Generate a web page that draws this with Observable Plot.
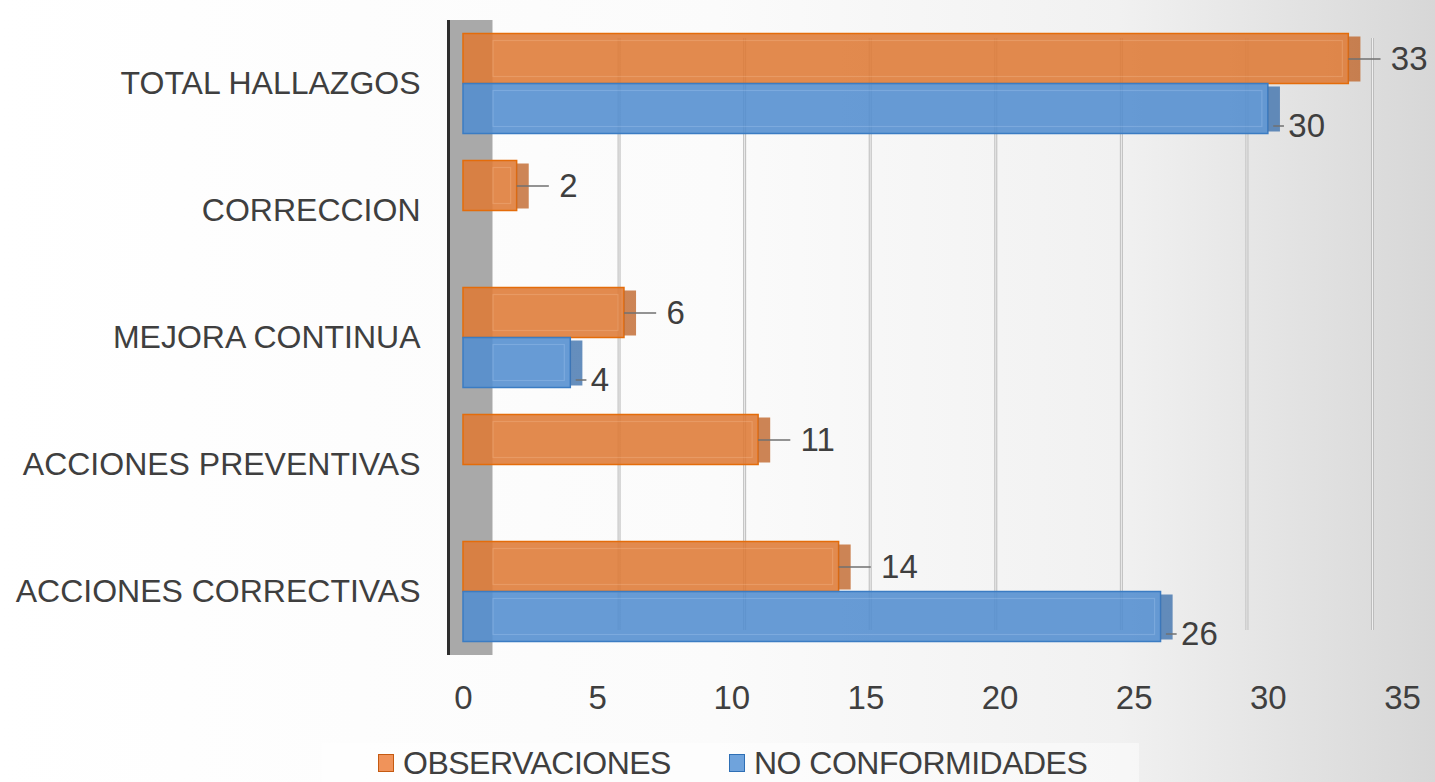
<!DOCTYPE html>
<html><head><meta charset="utf-8">
<script src="https://cdn.jsdelivr.net/npm/d3@7"></script>
<script src="https://cdn.jsdelivr.net/npm/@observablehq/plot@0.6"></script>
<style>
html,body{margin:0;padding:0;}
body{width:1435px;height:782px;overflow:hidden;background:linear-gradient(to right,#ffffff 0%,#fbfbfb 50%,#f1f1f1 78%,#d7d7d7 100%);font-family:"Liberation Sans",Arial,sans-serif;}
#wrap{position:relative;width:1435px;height:782px;}
#back,#front{position:absolute;left:0;top:0;}
#legend{position:absolute;left:322px;top:743px;width:817px;height:39px;background:rgba(255,255,255,0.45);display:flex;align-items:center;padding-left:56px;box-sizing:border-box;gap:58px;}
.item{display:flex;align-items:center;font-size:32px;line-height:34px;color:#3f3f3f;letter-spacing:-0.5px;}
.sw{width:14px;height:16px;margin-right:9px;border:1.5px solid;}
</style></head><body>
<div id="wrap"><div id="back"></div><div id="front"></div><div id="legend"></div></div>
<script>
const categories = ["TOTAL HALLAZGOS", "CORRECCION", "MEJORA CONTINUA", "ACCIONES PREVENTIVAS", "ACCIONES CORRECTIVAS"];
const seriesNames = ["OBSERVACIONES", "NO CONFORMIDADES"];
const observaciones = [33, 2, 6, 11, 14];
const noConformidades = [30, 0, 4, 0, 26];
const xTicks = [0, 5, 10, 15, 20, 25, 30, 35];

const rows = categories.flatMap((c, i) => [
  {category: c, series: seriesNames[0], value: observaciones[i]},
  {category: c, series: seriesNames[1], value: noConformidades[i]}
]);
const obs = rows.filter(d => d.series === seriesNames[0]);
const nc = rows.filter(d => d.series === seriesNames[1]);
const obsShown = obs.filter(d => d.value > 0);
const ncShown = nc.filter(d => d.value > 0);

const ORANGE = "#de7a36", ORANGE_STROKE = "#e46c0a", ORANGE_SIDE = "#c0672c";
const BLUE = "#528dcf", BLUE_STROKE = "#3b7cc3", BLUE_SIDE = "#3f72ad";

// back wall gridlines (own scale for the recessed plane)
const back = Plot.plot({
  width: 1435, height: 740,
  marginLeft: 493, marginRight: 63, marginTop: 38, marginBottom: 110,
  x: {domain: [0, 35], axis: null},
  style: {background: "transparent"},
  marks: [
    Plot.ruleX(xTicks.filter(v => v > 0), {stroke: "#bdbdbd", strokeWidth: 3}),
    Plot.ruleX(xTicks.filter(v => v > 0), {stroke: "#efefef", strokeWidth: 1})
  ]
});
document.getElementById("back").appendChild(back);

const common = {y: "series", fy: "category"};
const front = Plot.plot({
  width: 1435, height: 740,
  marginLeft: 463, marginRight: 33, marginTop: 19.5, marginBottom: 85.5,
  x: {domain: [0, 35]},
  y: {domain: seriesNames, paddingInner: 0, paddingOuter: 0.25, axis: null},
  fy: {domain: categories, padding: 0},
  style: {background: "transparent", fontFamily: "'Liberation Sans', Arial, sans-serif", color: "#3f3f3f"},
  marks: [
    Plot.ruleX([0], {stroke: "#a9a9a9", strokeWidth: 44, dx: 7}),
    Plot.ruleX([0], {stroke: "#2e2e2e", strokeWidth: 3, dx: -15}),
    // orange bars
    Plot.barX(obs, {...common, x: "value", fill: ORANGE, fillOpacity: 0.88, stroke: ORANGE_STROKE, strokeWidth: 1.5}),
    Plot.barX(obsShown, {...common, x1: "value", x2: d => d.value + 0.45, fill: ORANGE_SIDE, fillOpacity: 0.8, insetTop: 3, insetBottom: 2}),
    Plot.barX(obsShown, {...common, x: "value", fill: "none", stroke: "rgba(255,215,180,0.22)", strokeWidth: 1.2, insetTop: 7, insetBottom: 7, insetLeft: 30, insetRight: 6}),
    // blue bars
    Plot.barX(nc, {...common, x: "value", fill: BLUE, fillOpacity: 0.88, stroke: BLUE_STROKE, strokeWidth: 1.5}),
    Plot.barX(ncShown, {...common, x1: "value", x2: d => d.value + 0.45, fill: BLUE_SIDE, fillOpacity: 0.8, insetTop: 3, insetBottom: 2}),
    Plot.barX(ncShown, {...common, x: "value", fill: "none", stroke: "rgba(200,225,255,0.22)", strokeWidth: 1.2, insetTop: 7, insetBottom: 7, insetLeft: 30, insetRight: 6}),
    // leaders + labels
    Plot.ruleY(obsShown, {...common, x1: "value", x2: d => d.value + 1.2, stroke: "#707070", strokeWidth: 1.5}),
    Plot.text(obsShown, {...common, x: "value", text: d => String(d.value), dx: 42, textAnchor: "start", fontSize: 33, fill: "#3f3f3f"}),
    Plot.ruleY(ncShown, {...common, x1: d => d.value + 0.2, x2: d => d.value + 0.6, dy: 17, stroke: "#707070", strokeWidth: 1.5}),
    Plot.text(ncShown, {...common, x: "value", text: d => String(d.value), dx: 20, dy: 17, textAnchor: "start", fontSize: 33, fill: "#3f3f3f"}),
    Plot.axisX({ticks: xTicks, tickSize: 0, tickPadding: 30, fontSize: 33, label: null}),
    Plot.axisFy({anchor: "left", tickSize: 0, tickPadding: 43, fontSize: 32, label: null})
  ]
});
document.getElementById("front").appendChild(front);

const legend = document.getElementById("legend");
const legendStyles = [["#f0935a", "#c55a11"], ["#6fa3dc", "#2e6fb5"]];
seriesNames.forEach((name, i) => {
  const item = document.createElement("div");
  item.className = "item";
  const sw = document.createElement("span");
  sw.className = "sw";
  sw.style.background = legendStyles[i][0];
  sw.style.borderColor = legendStyles[i][1];
  const t = document.createElement("span");
  t.textContent = name;
  item.appendChild(sw); item.appendChild(t);
  legend.appendChild(item);
});
</script>
</body></html>
